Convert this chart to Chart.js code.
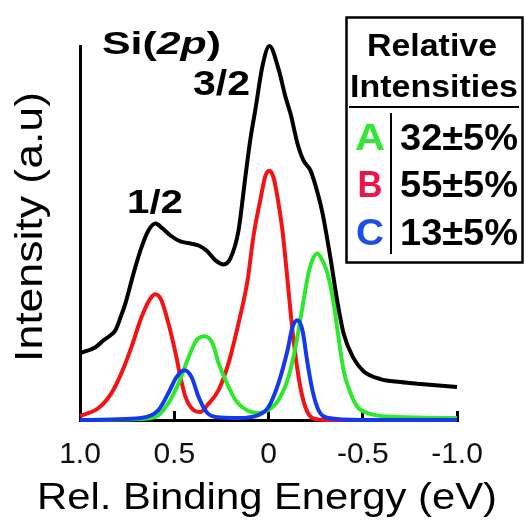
<!DOCTYPE html>
<html>
<head>
<meta charset="utf-8">
<script src="https://cdn.jsdelivr.net/npm/chart.js@4.4.1/dist/chart.umd.min.js"></script>
<style>
html,body{margin:0;padding:0;background:#fff;}
canvas{display:block;}
</style>
</head>
<body>
<canvas id="c" width="526" height="521"></canvas>
<script>
// ---- Data (energy in eV, intensity in arbitrary units) ----
const energyTotal = [1.00, 0.918, 0.875, 0.838, 0.812, 0.785, 0.759, 0.716, 0.674, 0.637, 0.599, 0.562, 0.520, 0.467, 0.414, 0.371, 0.329, 0.281, 0.239, 0.202, 0.159, 0.122, 0.095, 0.069, 0.032, -0.005, -0.053, -0.090, -0.117, -0.154, -0.186, -0.223, -0.260, -0.286, -0.313, -0.329, -0.366, -0.398, -0.451, -0.504, -0.594, -0.700, -0.806, -1.00];
const intensityTotal = [67, 73, 80, 85, 90, 103, 117, 147, 173, 190, 197, 192, 185, 179, 177, 175, 170, 160, 156, 162, 190, 245, 283, 312, 355, 375, 352, 324, 307, 277, 260, 250, 228, 208, 180, 162, 118, 87, 62, 49, 41, 38, 36, 33];

const energyB = [1.00, 0.902, 0.833, 0.780, 0.727, 0.674, 0.626, 0.599, 0.568, 0.531, 0.493, 0.467, 0.440, 0.398, 0.361, 0.324, 0.265, 0.212, 0.159, 0.111, 0.080, 0.042, 0.016, -0.005, -0.027, -0.048, -0.074, -0.101, -0.127, -0.154, -0.180, -0.212, -0.249, -0.329, -1.00];
const intensityB = [4, 12, 27, 47, 73, 103, 122, 126, 120, 97, 67, 43, 23, 10, 8, 15, 30, 57, 97, 140, 184, 222, 245, 250, 243, 223, 190, 140, 90, 50, 23, 6, 1, 0, 0];

const energyA = [1.00, 0.679, 0.599, 0.531, 0.477, 0.424, 0.382, 0.340, 0.297, 0.265, 0.228, 0.175, 0.106, 0.053, 0.000, -0.053, -0.106, -0.143, -0.180, -0.212, -0.239, -0.260, -0.286, -0.313, -0.345, -0.366, -0.398, -0.435, -0.472, -0.525, -0.684, -1.00];
const intensityA = [0, 1, 3, 17, 37, 63, 80, 84, 77, 57, 40, 20, 9, 7, 10, 20, 43, 73, 113, 147, 163, 167, 160, 147, 118, 90, 50, 27, 13, 7, 3, 2];

const energyC = [1.00, 0.679, 0.584, 0.531, 0.488, 0.446, 0.408, 0.371, 0.329, 0.281, 0.159, 0.053, 0.000, -0.053, -0.101, -0.127, -0.154, -0.180, -0.207, -0.233, -0.265, -0.318, -0.488, -1.00];
const intensityC = [0, 2, 10, 27, 43, 50, 43, 23, 8, 3, 2, 5, 13, 37, 70, 93, 100, 90, 57, 30, 10, 2, 0, 0];

const xTickValues = [1.0, 0.5, 0, -0.5, -1.0];
const xTickLabels = ['1.0', '0.5', '0', '-0.5', '-1.0'];

const titleParts = ['Si(', '2p', ')'];
const peakLabels = ['1/2', '3/2'];
const legendHeader = ['Relative', 'Intensities'];
const legendLetters = ['A', 'B', 'C'];
const legendValues = ['32±5%', '55±5%', '13±5%'];
const xAxisTitle = 'Rel. Binding Energy (eV)';
const yAxisTitle = 'Intensity (a.u)';

// ---- Styles ----
const FAMILY = "'Liberation Sans', Arial, Helvetica, sans-serif";
const COLOR_A = '#2ee82e';
const COLOR_B = '#f21414';
const COLOR_C = '#1438ee';
const LETTER_COLORS = ['#33e633', '#ee1446', '#1a4ee8'];

function toPoints(xs, ys) { return xs.map((x, i) => ({ x: x, y: ys[i] })); }

function stretchText(ctx, parts, x, y, width, align, rotate) {
  ctx.save();
  let natural = 0;
  parts.forEach(p => { ctx.font = p.font; p.w = ctx.measureText(p.text).width; natural += p.w; });
  const sx = width / natural;
  ctx.translate(x, y);
  if (rotate) ctx.rotate(-Math.PI / 2);
  ctx.scale(sx, 1);
  let cx = align === 'center' ? -natural / 2 : 0;
  ctx.textBaseline = 'alphabetic';
  ctx.textAlign = 'left';
  parts.forEach(p => {
    ctx.font = p.font;
    ctx.fillStyle = p.color || '#000';
    ctx.fillText(p.text, cx, 0);
    cx += p.w;
  });
  ctx.restore();
}

const annotations = {
  id: 'annotations',
  afterDraw(chart) {
    const ctx = chart.ctx;
    const bold = s => 'bold ' + s + 'px ' + FAMILY;
    const boldIt = s => 'italic bold ' + s + 'px ' + FAMILY;
    const reg = s => s + 'px ' + FAMILY;

    // Title Si(2p)
    stretchText(ctx, [
      { text: titleParts[0], font: bold(32) },
      { text: titleParts[1], font: boldIt(32) },
      { text: titleParts[2], font: bold(32) }
    ], 102, 54, 119, 'left');

    // Peak labels
    stretchText(ctx, [{ text: peakLabels[0], font: bold(34) }], 127, 213, 56, 'left');
    stretchText(ctx, [{ text: peakLabels[1], font: bold(35) }], 193, 95, 57, 'left');

    // Legend box
    ctx.save();
    ctx.strokeStyle = '#000';
    ctx.lineWidth = 2.5;
    ctx.strokeRect(346.5, 17.5, 176, 245);
    ctx.lineWidth = 2;
    ctx.beginPath();
    ctx.moveTo(349, 107); ctx.lineTo(519, 107);
    ctx.moveTo(391, 113); ctx.lineTo(391, 254);
    ctx.stroke();
    ctx.restore();

    stretchText(ctx, [{ text: legendHeader[0], font: bold(32) }], 432, 56, 130, 'center');
    stretchText(ctx, [{ text: legendHeader[1], font: bold(31) }], 434, 97, 168, 'center');

    const rowBase = [150, 197, 245];
    const letterW = [30, 25, 28];
    for (let i = 0; i < 3; i++) {
      stretchText(ctx, [{ text: legendLetters[i], font: bold(37), color: LETTER_COLORS[i] }], 370, rowBase[i], letterW[i], 'center');
      stretchText(ctx, [{ text: legendValues[i], font: bold(36) }], 400, rowBase[i], 118, 'left');
    }

    // Axis titles
    stretchText(ctx, [{ text: xAxisTitle, font: reg(37) }], 267, 509, 460, 'center');
    stretchText(ctx, [{ text: yAxisTitle, font: reg(38) }], 42, 227, 270, 'center', true);
  }
};

Chart.defaults.font.family = FAMILY;

const lineStyle = { borderWidth: 4, pointRadius: 0, cubicInterpolationMode: 'monotone', fill: false, clip: false };

new Chart(document.getElementById('c').getContext('2d'), {
  type: 'line',
  data: {
    datasets: [
      Object.assign({ label: 'Total', data: toPoints(energyTotal, intensityTotal), borderColor: '#000' }, lineStyle),
      Object.assign({ label: 'C', data: toPoints(energyC, intensityC), borderColor: COLOR_C }, lineStyle),
      Object.assign({ label: 'A', data: toPoints(energyA, intensityA), borderColor: COLOR_A }, lineStyle),
      Object.assign({ label: 'B', data: toPoints(energyB, intensityB), borderColor: COLOR_B }, lineStyle)
    ]
  },
  options: {
    responsive: false,
    devicePixelRatio: 1,
    animation: false,
    layout: { padding: { left: 0, right: 69, top: 46, bottom: 0 } },
    plugins: { legend: { display: false }, tooltip: { enabled: false } },
    scales: {
      x: {
        type: 'linear',
        min: -1, max: 1,
        reverse: true,
        ticks: {
          stepSize: 0.5,
          autoSkip: false,
          maxRotation: 0,
          padding: 26,
          color: '#111',
          font: { size: 30, family: FAMILY },
          callback: (v) => {
            const i = xTickValues.findIndex(t => Math.abs(t - v) < 1e-9);
            return i >= 0 ? xTickLabels[i] : '';
          }
        },
        grid: { display: true, drawOnChartArea: false, drawTicks: true, tickLength: -9, tickWidth: 3, tickColor: '#000' },
        border: { display: true, color: '#000', width: 3 },
        afterFit: (s) => { s.height = 101; }
      },
      y: {
        type: 'linear',
        min: 0, max: 375,
        ticks: { display: false },
        grid: { display: false },
        border: { display: true, color: '#000', width: 3 },
        afterFit: (s) => { s.width = 80; }
      }
    }
  },
  plugins: [annotations]
});
</script>
</body>
</html>
